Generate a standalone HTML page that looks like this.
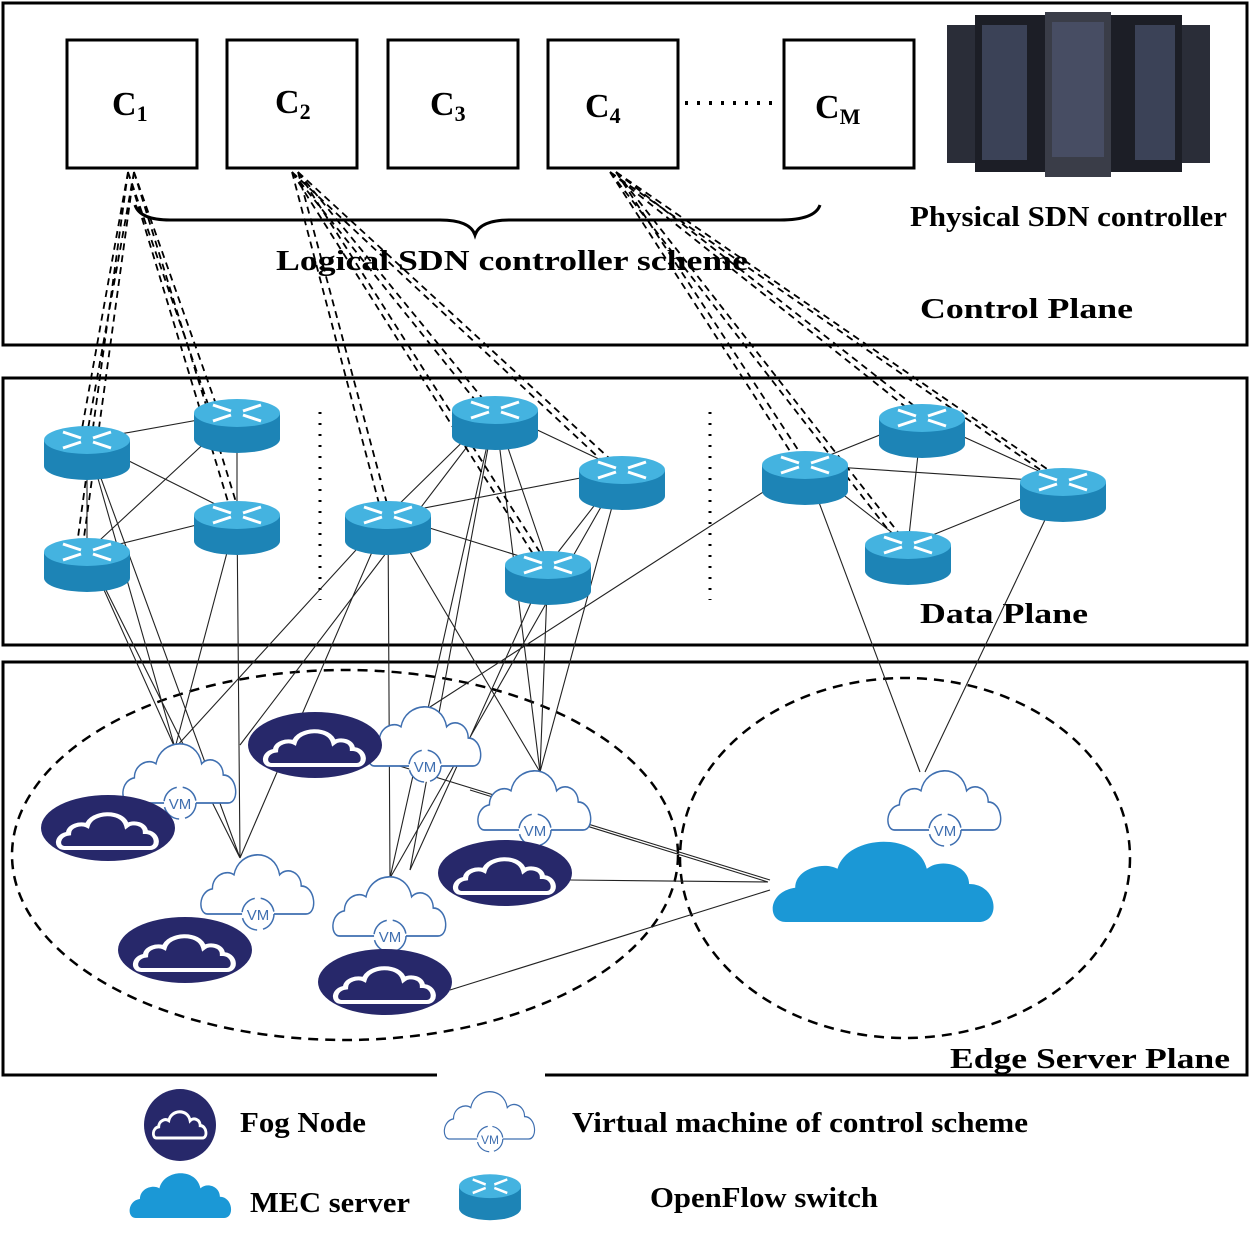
<!DOCTYPE html>
<html><head><meta charset="utf-8"><style>
body{margin:0;background:#fff}
svg text{font-family:"Liberation Serif",serif;font-weight:bold;fill:#000}
</style></head><body>
<svg width="1250" height="1242" viewBox="0 0 1250 1242" xmlns="http://www.w3.org/2000/svg">
<defs>
<path id="cl" d="M8,50 C0,50 0,34 12,32 C12,22 24,18 30,22 C34,4 64,2 68,22 C74,16 86,20 86,30 C98,30 100,50 90,50 Z"/>
<g id="sw">
<path d="M-43,0 L-43,26 A43,14 0 0 0 43,26 L43,0 Z" fill="#1d84b6"/>
<ellipse cx="0" cy="0" rx="43" ry="14" fill="#44b3e0"/>
<g stroke="#fff" stroke-width="3" fill="none">
<path d="M-24,-8 L-6,-2 M-24,8 L-6,2 M24,-8 L6,-2 M24,8 L6,2"/>
</g>
</g>
<g id="vm">
<use href="#cl" transform="translate(-60,-40) scale(1.2,1.4)" fill="#fff" stroke="#3f6fb0" stroke-width="1.2"/>
<circle cx="0" cy="30" r="16" fill="#fff" stroke="#3f6fb0" stroke-width="1.5" stroke-dasharray="20 6"/>
<text x="0" y="36" text-anchor="middle" style="font-family:'Liberation Sans',sans-serif;font-weight:normal;fill:#3f6fb0;font-size:15px">VM</text>
</g>
<g id="fog">
<ellipse cx="0" cy="0" rx="67" ry="33" fill="#27286a"/>
<use href="#cl" transform="translate(-52,-20) scale(1.04,0.8)" fill="#27286a" stroke="#fff" stroke-width="5"/>
</g>
</defs>

<rect x="3" y="3" width="1244" height="342" fill="none" stroke="#000" stroke-width="3"/>
<rect x="3" y="378" width="1244" height="267" fill="none" stroke="#000" stroke-width="3"/>
<path d="M437,1075 L3,1075 L3,662 L1247,662 L1247,1075 L545,1075" fill="none" stroke="#000" stroke-width="3"/>

<g fill="#fff" stroke="#000" stroke-width="3">
<rect x="67" y="40" width="130" height="128"/><rect x="227" y="40" width="130" height="128"/>
<rect x="388" y="40" width="130" height="128"/><rect x="548" y="40" width="130" height="128"/>
<rect x="784" y="40" width="130" height="128"/>
</g>
<g font-size="34">
<text x="112" y="115">C<tspan font-size="22" dy="6">1</tspan></text>
<text x="275" y="113">C<tspan font-size="22" dy="6">2</tspan></text>
<text x="430" y="115">C<tspan font-size="22" dy="6">3</tspan></text>
<text x="585" y="117">C<tspan font-size="22" dy="6">4</tspan></text>
<text x="815" y="118">C<tspan font-size="22" dy="6">M</tspan></text>
</g>
<line x1="685" y1="103" x2="778" y2="103" stroke="#000" stroke-width="4" stroke-dasharray="3 9"/>
<path d="M135,205 Q140,220 170,220 L440,220 Q470,220 475,235 Q480,220 510,220 L780,220 Q815,220 820,205" fill="none" stroke="#000" stroke-width="3"/>

<g>
<rect x="947" y="25" width="30" height="138" fill="#2a2d38"/>
<rect x="1180" y="25" width="30" height="138" fill="#2a2d38"/>
<rect x="975" y="15" width="72" height="157" fill="#1c1e26"/>
<rect x="1110" y="15" width="72" height="157" fill="#1c1e26"/>
<rect x="1045" y="12" width="66" height="165" fill="#3a3d48"/>
<rect x="982" y="25" width="45" height="135" fill="#3b4257"/>
<rect x="1052" y="22" width="52" height="135" fill="#474d63"/>
<rect x="1135" y="25" width="40" height="135" fill="#3b4257"/>
</g>

<g font-size="29">
<text x="910" y="226" textLength="317" lengthAdjust="spacingAndGlyphs">Physical SDN controller</text>
<text x="276" y="270" textLength="472" lengthAdjust="spacingAndGlyphs">Logical SDN controller scheme</text>
<text x="920" y="318" textLength="213" lengthAdjust="spacingAndGlyphs">Control Plane</text>
<text x="920" y="623" textLength="168" lengthAdjust="spacingAndGlyphs">Data Plane</text>
<text x="950" y="1068" textLength="280" lengthAdjust="spacingAndGlyphs">Edge Server Plane</text>
<text x="240" y="1132" textLength="126" lengthAdjust="spacingAndGlyphs">Fog Node</text>
<text x="250" y="1212" textLength="160" lengthAdjust="spacingAndGlyphs">MEC server</text>
<text x="572" y="1132" textLength="456" lengthAdjust="spacingAndGlyphs">Virtual machine of control scheme</text>
<text x="650" y="1207" textLength="228" lengthAdjust="spacingAndGlyphs">OpenFlow switch</text>
</g>

<g stroke="#000" stroke-width="3" stroke-dasharray="2 9">
<line x1="320" y1="412" x2="320" y2="600"/><line x1="710" y1="412" x2="710" y2="600"/>
</g>

<g fill="none" stroke="#000" stroke-width="2.5" stroke-dasharray="10 7">
<ellipse cx="345" cy="855" rx="333" ry="185"/>
<ellipse cx="905" cy="858" rx="225" ry="180"/>
</g>

<g stroke="#222" stroke-width="1.1" fill="none">
<path d="M87,440 L237,413 M87,440 L237,515 M87,440 L87,552 M87,552 L237,515 M87,552 L237,413 M237,413 L237,515"/>
<path d="M388,515 L495,410 M388,515 L622,470 M495,410 L548,565 M495,410 L622,470 M388,515 L548,565 M622,470 L548,565"/>
<path d="M805,465 L922,418 M805,465 L1063,482 M805,465 L908,545 M922,418 L1063,482 M922,418 L908,545 M908,545 L1063,482"/>
<path d="M87,440 L175,748 M87,552 L175,748 M87,552 L240,858 M87,440 L240,858 M237,515 L175,748 M237,515 L240,858"/>
<path d="M388,515 L240,858 M388,515 L390,878 M388,515 L540,772 M388,515 L175,748"/>
<path d="M495,410 L390,878 M495,410 L410,870 M495,410 L240,745 M495,410 L540,772"/>
<path d="M622,470 L390,878 M622,470 L540,772 M548,565 L540,772 M548,565 L410,870"/>
<path d="M805,465 L430,707 M805,465 L920,772 M1063,482 L925,772"/>
<path d="M570,880 L768,882 M470,790 L768,882 M380,760 L770,880 M450,990 L770,890"/>
</g>

<g stroke="#000" stroke-width="1.8" fill="none" stroke-dasharray="7 5">
<path d="M128,172 L80,440 M134,172 L86,440 M128,172 L76,552 M134,172 L82,552"/>
<path d="M128,172 L210,410 M134,172 L218,410 M128,172 L232,515 M134,172 L240,515"/>
<path d="M292,172 L382,515 M298,172 L390,515 M292,172 L483,410 M298,172 L492,410"/>
<path d="M292,172 L612,470 M298,172 L622,470 M292,172 L540,565 M298,172 L548,565"/>
<path d="M610,172 L797,462 M616,172 L806,462 M610,172 L912,412 M616,172 L922,412"/>
<path d="M610,172 L1058,482 M616,172 L1066,482 M610,172 L900,545 M616,172 L908,545"/>
</g>

<use href="#sw" x="87" y="440"/><use href="#sw" x="237" y="413"/><use href="#sw" x="237" y="515"/><use href="#sw" x="87" y="552"/>
<use href="#sw" x="495" y="410"/><use href="#sw" x="388" y="515"/><use href="#sw" x="622" y="470"/><use href="#sw" x="548" y="565"/>
<use href="#sw" x="805" y="465"/><use href="#sw" x="922" y="418"/><use href="#sw" x="1063" y="482"/><use href="#sw" x="908" y="545"/>

<use href="#vm" x="180" y="773"/><use href="#vm" x="258" y="884"/><use href="#vm" x="425" y="736"/>
<use href="#vm" x="535" y="800"/><use href="#vm" x="390" y="906"/><use href="#vm" x="945" y="800"/>

<use href="#fog" x="108" y="828"/><use href="#fog" x="315" y="745"/><use href="#fog" x="185" y="950"/>
<use href="#fog" x="505" y="873"/><use href="#fog" x="385" y="982"/>

<use href="#cl" transform="translate(767,827) scale(2.35,1.9)" fill="#1b98d6"/>

<circle cx="180" cy="1125" r="36" fill="#27286a"/>
<use href="#cl" transform="translate(152,1107) scale(0.56,0.62)" fill="#27286a" stroke="#fff" stroke-width="5"/>
<use href="#cl" transform="translate(127,1165) scale(1.08,1.06)" fill="#1b98d6"/>
<g transform="translate(490,1115) scale(0.8)"><use href="#vm"/></g>
<g transform="translate(490,1193) scale(0.72,0.85)"><use href="#sw" y="-8"/></g>
</svg>
</body></html>
